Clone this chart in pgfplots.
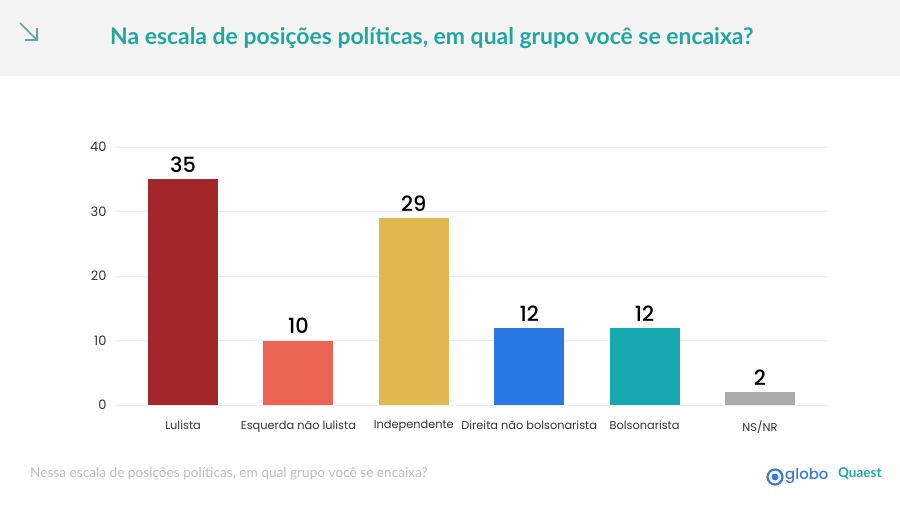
\documentclass[border=0pt]{standalone}
\usepackage{fontspec}
\setmainfont{Lato}
\newfontfamily\pop[BoldFont={Poppins Medium}]{Poppins}
\usepackage{pgfplots}
\pgfplotsset{compat=1.18}
\definecolor{cA}{HTML}{A3262A}
\definecolor{cB}{HTML}{EC6454}
\definecolor{cC}{HTML}{E0B84E}
\definecolor{cD}{HTML}{2A78E4}
\definecolor{cE}{HTML}{16A9B0}
\definecolor{cF}{HTML}{AAAAAA}
\definecolor{headgray}{HTML}{F4F4F4}
\definecolor{titleteal}{HTML}{20A6A3}
\definecolor{arrowc}{HTML}{5AA8A8}
\definecolor{gridgray}{HTML}{EDEDED}
\definecolor{footgray}{HTML}{BDBDBD}
\definecolor{globoblue}{HTML}{3E78D6}
\definecolor{txt}{HTML}{333333}
\begin{document}
\begin{tikzpicture}[x=1bp,y=1bp]
\useasboundingbox (0,0) rectangle (900,-505);
\fill[white] (0,0) rectangle (900,-505);
\fill[headgray] (0,0) rectangle (900,-76);
\draw[arrowc, line width=1.5bp] (20,-23) -- (37,-40);
\draw[arrowc, line width=1.5bp] (37,-28) -- (37,-40) -- (25,-40);
\node[anchor=west, text=titleteal, inner sep=0pt, font=\fontsize{23}{26}\selectfont\bfseries] at (110,-38) {Na escala de posições políticas, em qual grupo você se encaixa?};
\begin{axis}[
  at={(115bp,-405bp)}, anchor=south west,
  scale only axis, width=713bp, height=258bp,
  xmin=-0.59, xmax=5.59, ymin=0, ymax=40,
  axis line style={draw=none},
  major tick length=0pt,
  ytick={0,10,20,30,40},
  ymajorgrids, grid style={gridgray, line width=0.8bp},
  xtick={0,1,2,3,4,5},
  xticklabels={Lulista, Esquerda não lulista, Independente, Direita não bolsonarista, Bolsonarista, NS/NR},
  xticklabel style={font=\pop\fontsize{11.4}{13}\selectfont, text=txt, yshift=-12bp},
  yticklabel style={font=\pop\fontsize{13}{15}\selectfont, text=txt, xshift=-5bp},
  /pgf/number format/assume math mode=true,
  ybar, bar width=70bp, bar shift=0pt,
  nodes near coords,
  nodes near coords style={font=\pop\bfseries\fontsize{21}{24}\selectfont, text=black, yshift=3bp},
]
\addplot[draw=none, fill=cA] coordinates {(0,35)};
\addplot[draw=none, fill=cB] coordinates {(1,10)};
\addplot[draw=none, fill=cC] coordinates {(2,29)};
\addplot[draw=none, fill=cD] coordinates {(3,12)};
\addplot[draw=none, fill=cE] coordinates {(4,12)};
\addplot[draw=none, fill=cF] coordinates {(5,2)};
\end{axis}
\node[anchor=west, text=footgray, inner sep=0pt, font=\fontsize{13.7}{15}\selectfont] at (30,-474) {Nessa escala de posições políticas, em qual grupo você se encaixa?};
\draw[globoblue, line width=2.2bp] (775,-477) circle (7.5);
\fill[globoblue] (775,-477) circle (3.5);
\node[anchor=west, text=globoblue, inner sep=0pt, font=\pop\bfseries\fontsize{15}{16}\selectfont] at (785,-476) {globo};
\node[anchor=west, text=titleteal, inner sep=0pt, font=\bfseries\fontsize{13.5}{15}\selectfont] at (838,-474) {Quaest};
\end{tikzpicture}
\end{document}
